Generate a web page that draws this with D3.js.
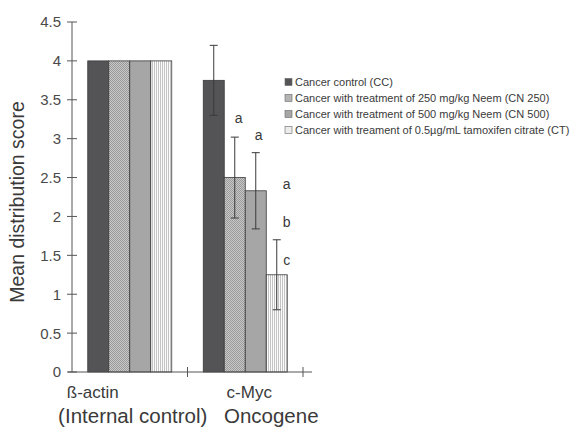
<!DOCTYPE html>
<html>
<head>
<meta charset="utf-8">
<script src="https://cdn.jsdelivr.net/npm/d3@7/dist/d3.min.js"></script>
<style>
  body { margin: 0; background: #fff; }
  text { font-family: "Liberation Sans", Arial, sans-serif; fill: #3a3a3a; }
</style>
</head>
<body>
<script>
// data
const categories = ['ß-actin', 'c-Myc'];
const categorySub = ['(Internal control)', 'Oncogene'];
const seriesNames = [
  'Cancer control (CC)',
  'Cancer with treatment of 250 mg/kg Neem (CN 250)',
  'Cancer with treatment of 500 mg/kg Neem (CN 500)',
  'Cancer with treament of 0.5µg/mL tamoxifen citrate (CT)'
];
// values per series: [ß-actin, c-Myc]
const ccValues = [4, 3.75];
const cn250Values = [4, 2.5];
const cn500Values = [4, 2.33];
const ctValues = [4, 1.25];
// error (±) per series, only on c-Myc
const ccErr = [0, 0.45];
const cn250Err = [0, 0.52];
const cn500Err = [0, 0.49];
const ctErr = [0, 0.45];
const yTicks = [0, 0.5, 1, 1.5, 2, 2.5, 3, 3.5, 4, 4.5];
// significance letters: series index, y value (data units)
const letters = [
  { s: 1, v: 3.2, t: 'a' },
  { s: 2, v: 2.98, t: 'a' },
  { s: 3, v: 2.35, t: 'a' },
  { s: 3, v: 1.86, t: 'b' },
  { s: 3, v: 1.38, t: 'c' }
];

const values = [ccValues, cn250Values, cn500Values, ctValues];
const errs = [ccErr, cn250Err, cn500Err, ctErr];

const width = 571, height = 427;
const svg = d3.select('body').append('svg')
  .attr('width', width).attr('height', height);

const defs = svg.append('defs');
// fine checker for CN 250
const chk = defs.append('pattern').attr('id', 'chk')
  .attr('patternUnits', 'userSpaceOnUse').attr('width', 2).attr('height', 2);
chk.append('rect').attr('width', 2).attr('height', 2).attr('fill', '#c8c8c8');
chk.append('rect').attr('width', 1).attr('height', 1).attr('fill', '#9a9a9a');
chk.append('rect').attr('x', 1).attr('y', 1).attr('width', 1).attr('height', 1).attr('fill', '#9a9a9a');
// vertical lines for CT
const vl = defs.append('pattern').attr('id', 'vl')
  .attr('patternUnits', 'userSpaceOnUse').attr('width', 2).attr('height', 2);
vl.append('rect').attr('width', 2).attr('height', 2).attr('fill', '#fbfbfb');
vl.append('rect').attr('width', 1).attr('height', 2).attr('fill', '#c4c4c4');

const fills = ['#545457', 'url(#chk)', '#a6a6a6', 'url(#vl)'];

const x0 = 72, x1 = 303;
const y = d3.scaleLinear().domain([0, 4.5]).range([372, 22]);
const xBand = d3.scaleBand().domain(categories).range([x0, x1]);
const barW = 21;
const xSeries = d3.scaleBand().domain(d3.range(4))
  .range([0, barW * 4]);

function barX(ci, s) {
  return xBand(categories[ci]) + xBand.bandwidth() / 2 - barW * 2 + xSeries(s);
}

// bars
values.forEach((vals, s) => {
  svg.append('g').selectAll('rect').data(vals).join('rect')
    .attr('x', (d, i) => barX(i, s))
    .attr('y', d => y(d))
    .attr('width', barW)
    .attr('height', d => y(0) - y(d))
    .attr('fill', fills[s])
    .attr('stroke', '#3a3a3a')
    .attr('stroke-width', 0.8);
});

// error bars
errs.forEach((es, s) => {
  es.forEach((e, i) => {
    if (!e) return;
    const cx = barX(i, s) + barW / 2;
    const v = values[s][i];
    const g = svg.append('g').attr('stroke', '#3a3a3a').attr('stroke-width', 1);
    g.append('line').attr('x1', cx).attr('x2', cx).attr('y1', y(v + e)).attr('y2', y(v - e));
    g.append('line').attr('x1', cx - 4).attr('x2', cx + 4).attr('y1', y(v + e)).attr('y2', y(v + e));
    g.append('line').attr('x1', cx - 4).attr('x2', cx + 4).attr('y1', y(v - e)).attr('y2', y(v - e));
  });
});

// letters
const letterDx = [0, 4, 3, 10];
svg.append('g').selectAll('text').data(letters).join('text')
  .attr('x', d => barX(1, d.s) + barW / 2 + letterDx[d.s])
  .attr('y', d => y(d.v))
  .attr('text-anchor', 'middle')
  .attr('font-size', 14)
  .text(d => d.t);

// y axis
const yAxis = svg.append('g');
yAxis.append('line').attr('x1', x0).attr('x2', x0).attr('y1', y(0)).attr('y2', y(4.5))
  .attr('stroke', '#555').attr('stroke-width', 1);
yAxis.selectAll('line.t').data(yTicks).join('line').attr('class', 't')
  .attr('x1', x0 - 5).attr('x2', x0 + 5)
  .attr('y1', d => y(d)).attr('y2', d => y(d))
  .attr('stroke', '#555');
yAxis.selectAll('text').data(yTicks).join('text')
  .attr('x', x0 - 11).attr('y', d => y(d)).attr('dy', '0.36em')
  .attr('text-anchor', 'end').attr('font-size', 15)
  .style('fill', '#4a4a4a')
  .text(d => d);

// x axis
const xAxis = svg.append('g').attr('stroke', '#555');
xAxis.append('line').attr('x1', x0 - 4).attr('x2', 312).attr('y1', y(0)).attr('y2', y(0));
xAxis.selectAll('line.t').data(categories).join('line').attr('class', 't')
  .attr('x1', d => xBand(d) + xBand.bandwidth()).attr('x2', d => xBand(d) + xBand.bandwidth())
  .attr('y1', y(0) - 5).attr('y2', y(0) + 5);

const catDx = [-37, 4];
const subDx = [3, 26];
svg.append('g').selectAll('text').data(categories).join('text')
  .attr('x', (d, i) => xBand(d) + xBand.bandwidth() / 2 + catDx[i])
  .attr('y', 398).attr('text-anchor', 'middle').attr('font-size', 17)
  .text(d => d);
svg.append('g').selectAll('text').data(categorySub).join('text')
  .attr('x', (d, i) => xBand(categories[i]) + xBand.bandwidth() / 2 + subDx[i])
  .attr('y', 423).attr('text-anchor', 'middle').attr('font-size', 20.5)
  .text(d => d);

// y title
svg.append('text')
  .attr('transform', 'translate(24,202) rotate(-90)')
  .attr('text-anchor', 'middle').attr('font-size', 19.5)
  .text('Mean distribution score');

// legend
const legend = svg.append('g').attr('transform', 'translate(285,82)');
const legFills = ['#545457', '#b4b4b4', '#a6a6a6', '#ececec'];
seriesNames.forEach((n, i) => {
  const g = legend.append('g').attr('transform', `translate(0,${i * 16})`);
  g.append('rect').attr('x', 0).attr('y', -3.5).attr('width', 7).attr('height', 7)
    .attr('fill', legFills[i]).attr('stroke', '#666').attr('stroke-width', 0.6);
  g.append('text').attr('x', 10).attr('dy', '0.35em').attr('font-size', 11).text(n);
});
</script>
</body>
</html>
